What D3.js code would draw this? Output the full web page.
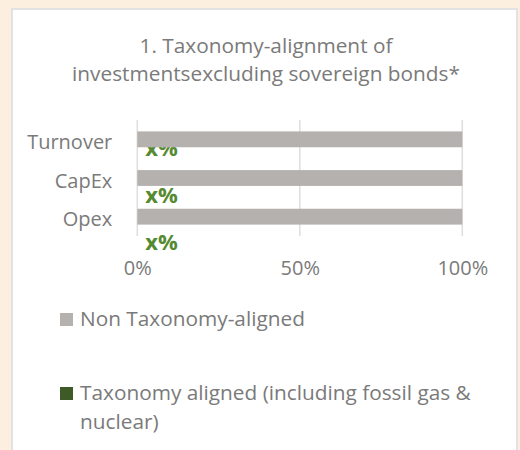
<!DOCTYPE html>
<html>
<head>
<meta charset="utf-8">
<script src="https://cdn.jsdelivr.net/npm/d3@7"></script>
<style>
  body { margin: 0; background: #fcefe0; }
  svg { display: block; }
</style>
</head>
<body>
<div id="chart"></div>
<script>
const categories = ["Turnover", "CapEx", "Opex"]
const nonAligned = [100, 100, 100]
const aligned = [0, 0, 0]
const alignedLabels = ["x%", "x%", "x%"]
const xTicks = [0, 50, 100]
const titleLines = ["1. Taxonomy-alignment of", "investmentsexcluding sovereign bonds*"]
const legendItems = [
    { name: "Non Taxonomy-aligned", lines: ["Non Taxonomy-aligned"], color: "#b5b1af" },
    { name: "Taxonomy aligned", lines: ["Taxonomy aligned (including fossil gas &", "nuclear)"], color: "#3d5a27" }
]

const W = 520, H = 450
const font = "'Open Sans', sans-serif"
const fs = "20px"
const fsBig = "20.8px"
const textGray = "#7a7a7a"

const svg = d3.select("#chart")
    .append("svg")
    .attr("width", W)
    .attr("height", H)
    .style("font-family", font)

// white panel
svg.append("rect")
    .attr("x", 12).attr("y", 9)
    .attr("width", 505).attr("height", 460)
    .attr("fill", "#fff")
    .attr("stroke", "#e2e2e2")
    .attr("stroke-width", 2)

// title
svg.append("text")
    .attr("text-anchor", "middle")
    .attr("fill", textGray)
    .style("font-size", fsBig)
    .selectAll("tspan")
    .data(titleLines)
    .join("tspan")
    .attr("x", 266)
    .attr("y", (d, i) => 53 + i * 28)
    .text(d => d)

const plot = { left: 137.3, right: 462.3, top: 120, bottom: 236 }

const x = d3.scaleLinear().domain([0, 100]).range([plot.left, plot.right])
const y = d3.scaleBand().domain(categories).range([plot.top, plot.bottom]).paddingInner(0.59).paddingOuter(0.295)
const yLabel = d3.scalePoint().domain(categories).range([156, 250])

// gridlines
svg.selectAll(".grid")
    .data(xTicks)
    .join("line")
    .attr("x1", d => x(d)).attr("x2", d => x(d))
    .attr("y1", plot.top).attr("y2", plot.bottom)
    .attr("stroke", "#dedede")
    .attr("stroke-width", 1.5)

// x axis labels
svg.append("g")
    .attr("transform", `translate(0,${plot.bottom + 39})`)
    .call(d3.axisBottom(x).tickValues(xTicks).tickFormat(d => d + "%").tickSize(0).tickPadding(0))
    .call(g => g.select(".domain").remove())
    .selectAll("text")
    .attr("dy", 0)
    .attr("fill", textGray)
    .style("font-size", fs)
    .style("font-family", font)

// y axis labels
svg.append("g")
    .attr("transform", `translate(${plot.left - 25},0)`)
    .call(d3.axisLeft(y).tickSize(0).tickPadding(0))
    .call(g => g.select(".domain").remove())
    .selectAll("text")
    .attr("dy", 0)
    .attr("transform", "translate(0,9.5)")
    .attr("fill", textGray)
    .style("font-size", fs)
    .style("font-family", font)

// aligned labels (drawn beneath the bars)
svg.selectAll(".lbl")
    .data(categories)
    .join("text")
    .attr("x", (d, i) => x(aligned[i]) + 8)
    .attr("y", d => yLabel(d))
    .attr("fill", "#558a30")
    .style("font-size", "22px")
    .style("font-weight", "bold")
    .text((d, i) => alignedLabels[i])

// green bars (zero width)
svg.selectAll(".al")
    .data(categories)
    .join("rect")
    .attr("x", x(0))
    .attr("y", d => y(d) + y.bandwidth())
    .attr("width", (d, i) => x(aligned[i]) - x(0))
    .attr("height", y.bandwidth())
    .attr("fill", "#3d5a27")

// gray bars
svg.selectAll(".na")
    .data(categories)
    .join("rect")
    .attr("x", x(0))
    .attr("y", d => y(d))
    .attr("width", (d, i) => x(nonAligned[i]) - x(0))
    .attr("height", y.bandwidth())
    .attr("fill", "#b5b1af")

// legend
const legend = svg.selectAll(".leg")
    .data(legendItems)
    .join("g")
    .attr("transform", (d, i) => `translate(60,${313 + i * 74})`)

legend.append("rect")
    .attr("width", 13).attr("height", 13)
    .attr("fill", d => d.color)

legend.append("text")
    .attr("fill", textGray)
    .style("font-size", fsBig)
    .selectAll("tspan")
    .data(d => d.lines)
    .join("tspan")
    .attr("x", 20)
    .attr("y", (d, i) => 13 + i * 29)
    .text(d => d)
</script>
</body>
</html>
